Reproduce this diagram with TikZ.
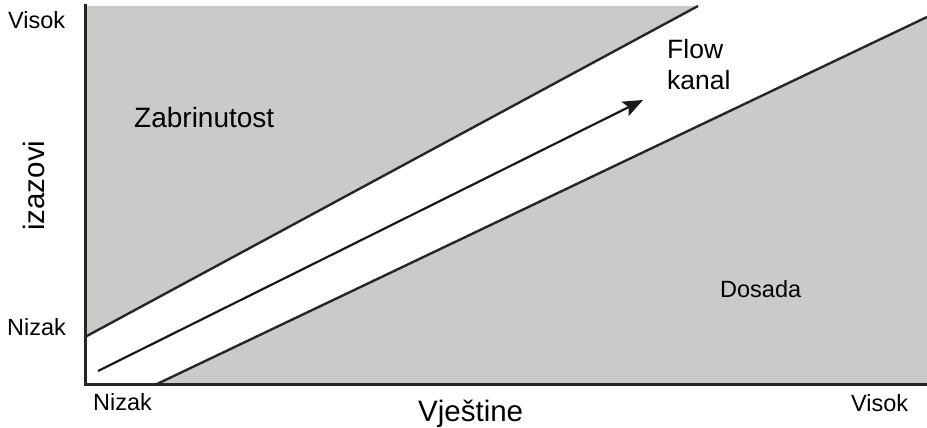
\documentclass[tikz,border=0pt]{standalone}
\usepackage{fontspec}
\setmainfont{Liberation Sans}
\usetikzlibrary{arrows.meta}
\definecolor{zonegray}{RGB}{202,203,201}
\tikzset{
  axisline/.style={line width=3pt, draw=black!85, line cap=rect},
  bandline/.style={line width=2.4pt, draw=black!85},
  zone/.style={fill=zonegray, draw=none},
  lbl/.style={anchor=base west, inner sep=0pt, text=black},
}
\begin{document}
\begin{tikzpicture}[x=1pt,y=-1pt]
\useasboundingbox (0,0) rectangle (927,428);
% key points
\coordinate (O) at (85,384);
\coordinate (Ytop) at (85,6);
\coordinate (Xend) at (927,384);
\coordinate (U1) at (85,337);
\coordinate (U2) at (698,6);
\coordinate (L1) at (157,384);
\coordinate (L2) at (927,17);
\coordinate (A1) at (98,371);
\coordinate (A2) at (643,100);
% gray zones
\fill[zone] (Ytop) -- (U2) -- (U1) -- cycle;
\fill[zone] (L1) -- (L2) -- (Xend) -- cycle;
% band lines
\draw[bandline] (U1) -- (U2);
\draw[bandline] (L1) -- (L2);
% arrow
\draw[line width=2.2pt, draw=black!90, -{Stealth[length=20pt,width=16pt,inset=4pt]}] (A1) -- (A2);
% axes
\draw[axisline] (Ytop) -- (O) -- (Xend);
% labels
\node[lbl, font=\fontsize{23.5}{23.5}\selectfont] (vy) at (8,29) {Visok};
\node[lbl, font=\fontsize{23.5}{23.5}\selectfont] (ny) at (7,335) {Nizak};
\node[lbl, font=\fontsize{23.5}{23.5}\selectfont] (nx) at (93,410) {Nizak};
\node[lbl, font=\fontsize{23.5}{23.5}\selectfont] (vx) at (851,411) {Visok};
\node[lbl, font=\fontsize{29.5}{29.5}\selectfont] (vj) at (418,421) {Vještine};
\node[lbl, font=\fontsize{29.5}{29.5}\selectfont, rotate=90] (iz) at (45,231) {izazovi};
\node[lbl, font=\fontsize{28}{28}\selectfont] (zb) at (134,128) {Zabrinutost};
\node[lbl, font=\fontsize{26.5}{26.5}\selectfont] (fl) at (667,59) {Flow};
\node[lbl, font=\fontsize{26.5}{26.5}\selectfont] (kn) at (667,90) {kanal};
\node[lbl, font=\fontsize{23.5}{23.5}\selectfont] (ds) at (720,297) {Dosada};
\end{tikzpicture}
\end{document}
